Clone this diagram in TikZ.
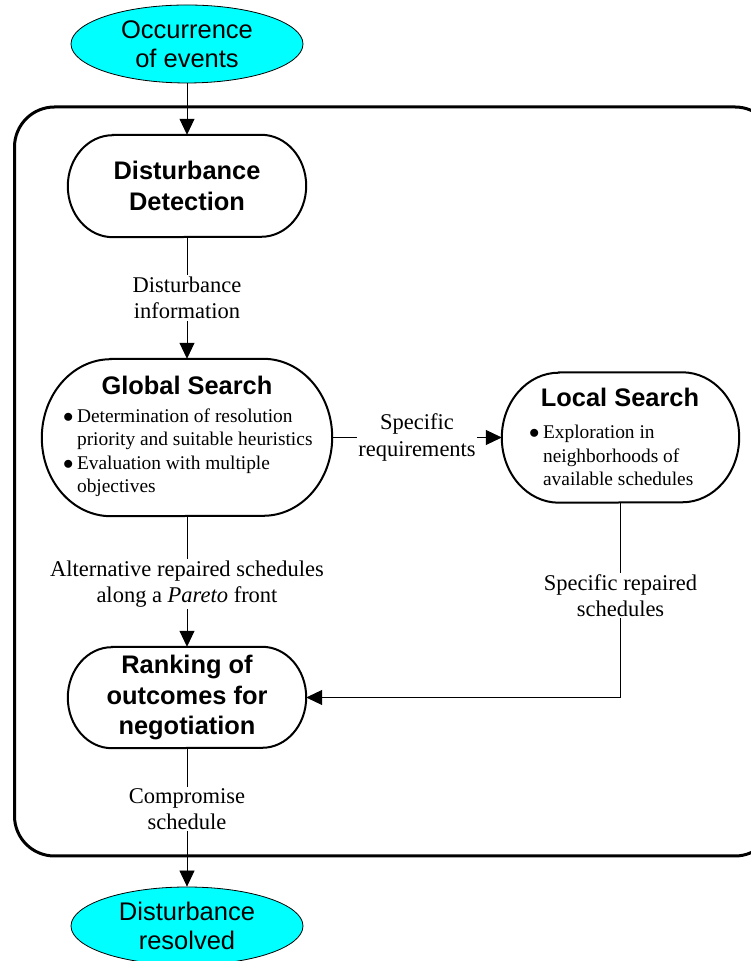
\documentclass[tikz,border=0pt]{standalone}
\usepackage{fontspec}
\setmainfont{Liberation Serif}
\newfontfamily\arialfont{Liberation Sans}
\usetikzlibrary{shapes.geometric,arrows.meta}
\definecolor{eventfill}{RGB}{0,255,255}

% Terminator-style outline around a (borderless) rectangular node:
% #1 node name, #2 horizontal radius of the ends, #3 half the node height
\newcommand\stadium[3]{%
  \draw[stadline] ([xshift=#2]#1.north west) -- ([xshift=-#2]#1.north east)
    arc[start angle=90,end angle=-90,x radius=#2,y radius=#3]
    -- ([xshift=#2]#1.south west)
    arc[start angle=270,end angle=90,x radius=#2,y radius=#3] -- cycle;}
\newcommand\itemdot{$\bullet$}

\begin{document}
\begin{tikzpicture}[x=1pt,y=1pt,
  event/.style={ellipse,draw=black,line width=0.8pt,fill=eventfill,
    minimum width=232pt,minimum height=78pt,inner sep=0pt,align=center,
    font=\arialfont\fontsize{25.5}{29}\selectfont},
  stadbox/.style={rectangle,inner sep=0pt,align=center,
    font=\arialfont\bfseries\fontsize{25.4}{30.5}\selectfont},
  stadline/.style={line width=2pt},
  headtext/.style={inner sep=0pt,font=\arialfont\bfseries\fontsize{25.4}{30}\selectfont},
  bullets/.style={inner sep=0pt,font=\fontsize{19.4}{23.5}\selectfont},
  flowlbl/.style={fill=white,inner sep=1.5pt,align=center,
    font=\fontsize{22.5}{26.5}\selectfont},
  flow/.style={line width=0.8pt,-{Triangle[length=16pt,width=15pt]}},
]
\useasboundingbox (0,0) rectangle (750,961);

% outer process frame
\draw[line width=3pt,rounded corners=40pt] (14.5,105) rectangle (775,854);

% start and end events
\node[event] (occ) at (187,917) {Occurrence\\of events};
\node[event] (res) at (187,35) {Disturbance\\resolved};

% process steps
\node[stadbox,minimum width=238pt,minimum height=102pt] (dd) at (187,775)
  {Disturbance\\Detection};
\node[stadbox,minimum width=290pt,minimum height=157pt] (gs) at (187,523.5) {};
\node[stadbox,minimum width=237pt,minimum height=130pt] (ls) at (620.5,523.5) {};
\node[stadbox,minimum width=238pt,minimum height=101pt] (rk) at (187,263.5)
  {Ranking of\\outcomes for\\negotiation};

\stadium{dd}{45pt}{51pt}
\stadium{gs}{69pt}{78.5pt}
\stadium{ls}{57pt}{65pt}
\stadium{rk}{44pt}{50.5pt}

% contents of the search steps
\node[headtext] (gstitle) at (187,576) {Global Search};
\node[bullets,anchor=west] (gslist) at (63,508) {%
  \begin{tabular}{@{}c@{\hspace{3.5pt}}l@{}}
  \itemdot & Determination of resolution\\
           & priority and suitable heuristics\\
  \itemdot & Evaluation with multiple\\
           & objectives
  \end{tabular}};
\node[headtext] (lstitle) at (620,564) {Local Search};
\node[bullets,anchor=west] (lslist) at (529,503.5) {%
  \begin{tabular}{@{}c@{\hspace{3.5pt}}l@{}}
  \itemdot & Exploration in\\
           & neighborhoods of\\
           & available schedules
  \end{tabular}};

% connectors
\draw[flow] (occ.south) -- (dd.north);
\draw[flow] (dd.south) -- node[flowlbl]{Disturbance\\information} (gs.north);
\draw[flow] (gs.east) -- node[flowlbl]{Specific\\requirements} (ls.west);
\draw[flow] (gs.south) -- node[flowlbl,pos=.52]
  {Alternative repaired schedules\\along a \textit{Pareto} front} (rk.north);
\draw[flow] (ls.south) -- node[flowlbl,pos=.477]{Specific repaired\\schedules}
  (ls.south |- rk.east) -- (rk.east);
\draw[flow] (rk.south) -- node[flowlbl,pos=.44]{Compromise\\schedule} (res.north);
\end{tikzpicture}
\end{document}
